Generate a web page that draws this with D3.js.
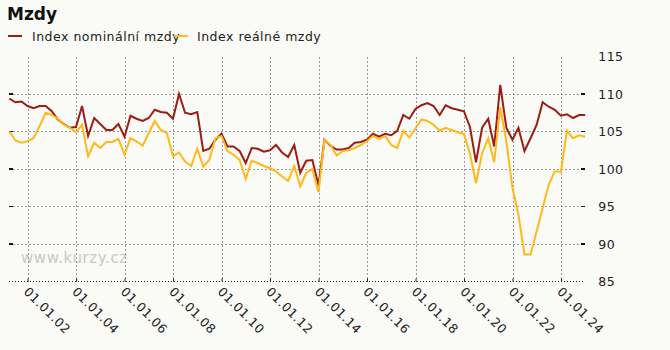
<!DOCTYPE html>
<html>
<head>
<meta charset="utf-8">
<script src="https://cdn.jsdelivr.net/npm/d3@7/dist/d3.min.js"></script>
<style>
  html, body { margin: 0; padding: 0; background: #fafaf7; }
  svg { display: block; font-family: "DejaVu Sans", Verdana, sans-serif; }
</style>
</head>
<body>
<svg id="chart" width="670" height="350"></svg>
<script>
// Year-over-year wage indices (same quarter of previous year = 100), 2001 Q1 – 2024 Q4
const firstYear = 2001;
const nominal = [
  109.4, 108.9, 109.0, 108.4, 108.1, 108.4, 108.4, 107.7, 106.6, 106.0, 105.5, 105.6,
  108.4, 104.4, 106.8, 106.0, 105.2, 105.2, 106.0, 104.3, 107.1, 106.7, 106.4, 106.8,
  107.9, 107.6, 107.5, 106.7, 110.0, 107.5, 107.3, 107.6, 102.4, 102.7, 103.9, 104.7,
  103.0, 103.0, 102.4, 100.8, 102.8, 102.7, 102.3, 102.5, 103.2, 102.2, 101.6, 103.2,
   99.5, 101.1, 101.2,  97.8, 103.9, 103.1, 102.6, 102.6, 102.8, 103.5, 103.6, 103.9,
  104.7, 104.3, 104.7, 104.5, 105.1, 107.2, 106.7, 108.0, 108.5, 108.8, 108.4, 107.2,
  108.5, 108.1, 107.9, 107.7, 105.6, 100.9, 105.5, 106.7, 103.0, 111.2, 105.5, 103.9,
  105.5, 102.4, 104.1, 105.9, 108.9, 108.3, 107.9, 107.1, 107.3, 106.8, 107.2, 107.2
];
const real = [
  105.0, 103.8, 103.5, 103.7, 104.1, 105.7, 107.5, 107.2, 106.7, 105.9, 105.5, 104.9,
  105.9, 101.7, 103.5, 102.8, 103.6, 103.6, 104.0, 101.9, 104.1, 103.7, 103.1, 104.8,
  106.4, 105.2, 104.8, 101.7, 102.2, 101.0, 100.4, 102.7, 100.3, 101.2, 104.1, 104.4,
  102.4, 101.9, 101.2,  98.7, 101.1, 100.8, 100.4, 100.1,  99.7,  99.0,  98.4, 100.4,
   97.7,  99.5, 100.0,  96.9, 103.9, 103.2, 101.8, 102.4, 102.5, 102.8, 103.2, 103.7,
  104.4, 104.0, 104.4, 103.2, 102.8, 105.1, 104.2, 105.4, 106.6, 106.4, 105.9, 105.1,
  105.5, 105.2, 104.9, 104.65, 102.0, 98.1, 102.1, 104.1, 100.9, 108.2, 103.7, 97.5,
   93.9,  88.6,  88.6,  91.7,  94.8,  97.9,  99.7,  99.6, 105.1, 104.1, 104.5, 104.3
];
const seriesNames = ["Index nominální mzdy", "Index reálné mzdy"];
const seriesColors = ["#9b1d14", "#ffba19"];
const yTicks = [85, 90, 95, 100, 105, 110, 115];
const xTickYears = [2002, 2004, 2006, 2008, 2010, 2012, 2014, 2016, 2018, 2020, 2022, 2024];

// each observation sits at the last day of its quarter
const dates = nominal.map((_, i) => {
  const yr = firstYear + Math.floor(i / 4), q = i % 4;
  return new Date(yr, q * 3 + 3, 0);
});

const svg = d3.select("#chart");
const plotLeft = 9.3, plotRight = 585.2, plotTop = 56.5, plotBottom = 281.5;
const labelFont = { size: 12.5, spacing: 0.5 };

const x = d3.scaleTime()
  .domain([dates[0], dates[dates.length - 1]])
  .range([plotLeft, plotRight]);
const y = d3.scaleLinear().domain([85, 115]).range([plotBottom, plotTop]);

// title
svg.append("text").attr("x", 7).attr("y", 20)
  .attr("font-size", 17).attr("font-weight", "bold").attr("fill", "#111")
  .text("Mzdy");

// legend
const legendX = [8, 174];
seriesNames.forEach((name, k) => {
  const g = svg.append("g").attr("transform", `translate(${legendX[k]},36)`);
  g.append("line").attr("x1", 0).attr("x2", 14).attr("y1", 0).attr("y2", 0)
    .attr("stroke", seriesColors[k]).attr("stroke-width", 2);
  g.append("text").attr("x", 24 - (k ? 1 : 0)).attr("y", 4.5)
    .attr("font-size", labelFont.size).attr("letter-spacing", labelFont.spacing)
    .attr("fill", "#222").text(name);
});

// watermark
svg.append("text").attr("x", 21).attr("y", 263)
  .attr("font-size", 15).attr("letter-spacing", 0.6).attr("fill", "#c9c9c6").text("www.kurzy.cz");

// grid
const gridTicks = yTicks.filter(v => v > 85 && v < 115);
const grid = svg.append("g").attr("stroke", "#9a9a9a").attr("stroke-width", 1)
  .attr("stroke-dasharray", "2,2").attr("shape-rendering", "crispEdges");
gridTicks.forEach(v => {
  grid.append("line").attr("x1", plotLeft + 4).attr("x2", plotRight - 4)
    .attr("y1", y(v)).attr("y2", y(v));
});
xTickYears.forEach(yr => {
  const xv = Math.round(x(new Date(yr, 0, 1))) + 0.5;
  grid.append("line").attr("x1", xv).attr("x2", xv).attr("y1", plotTop).attr("y2", plotBottom);
});

// value axis on the right
const yAxis = svg.append("g").attr("transform", `translate(${plotRight},0)`)
  .call(d3.axisRight(y).tickValues(yTicks).tickSize(0).tickPadding(13));
yAxis.select(".domain").remove();
yAxis.selectAll("text").attr("font-size", labelFont.size).attr("letter-spacing", labelFont.spacing)
  .attr("fill", "#222").attr("font-family", "DejaVu Sans, sans-serif");
const tickMarks = svg.append("g").attr("stroke", "#111").attr("stroke-width", 1.3)
  .attr("shape-rendering", "crispEdges");
gridTicks.forEach(v => {
  tickMarks.append("line").attr("x1", plotLeft).attr("x2", plotLeft + 4).attr("y1", y(v)).attr("y2", y(v));
  tickMarks.append("line").attr("x1", plotRight - 4).attr("x2", plotRight).attr("y1", y(v)).attr("y2", y(v));
});

// time axis along the bottom
svg.append("line").attr("x1", plotLeft).attr("x2", plotRight)
  .attr("y1", plotBottom).attr("y2", plotBottom)
  .attr("stroke", "#222").attr("stroke-dasharray", "1,2").attr("shape-rendering", "crispEdges");
const xAxis = svg.append("g").attr("transform", `translate(0,${plotBottom})`)
  .call(d3.axisBottom(x).tickValues(xTickYears.map(yr => new Date(yr, 0, 1)))
    .tickSize(3).tickFormat(d3.timeFormat("%d.%m.%y")));
xAxis.select(".domain").remove();
xAxis.selectAll(".tick line").attr("stroke", "#222").attr("transform", "translate(0,-3)");
xAxis.selectAll("text")
  .attr("font-size", labelFont.size).attr("letter-spacing", labelFont.spacing).attr("fill", "#222")
  .attr("font-family", "DejaVu Sans, sans-serif")
  .attr("text-anchor", "start")
  .attr("dy", null).attr("y", 0)
  .attr("transform", "translate(-5,11) rotate(45)");

// series lines
const line = d3.line().x((d, i) => x(dates[i])).y(d => y(d));
[nominal, real].forEach((vals, k) => {
  svg.append("path").datum(vals)
    .attr("fill", "none").attr("stroke", seriesColors[k])
    .attr("stroke-width", 2).attr("stroke-linejoin", "miter")
    .attr("d", line);
});
</script>
</body>
</html>
